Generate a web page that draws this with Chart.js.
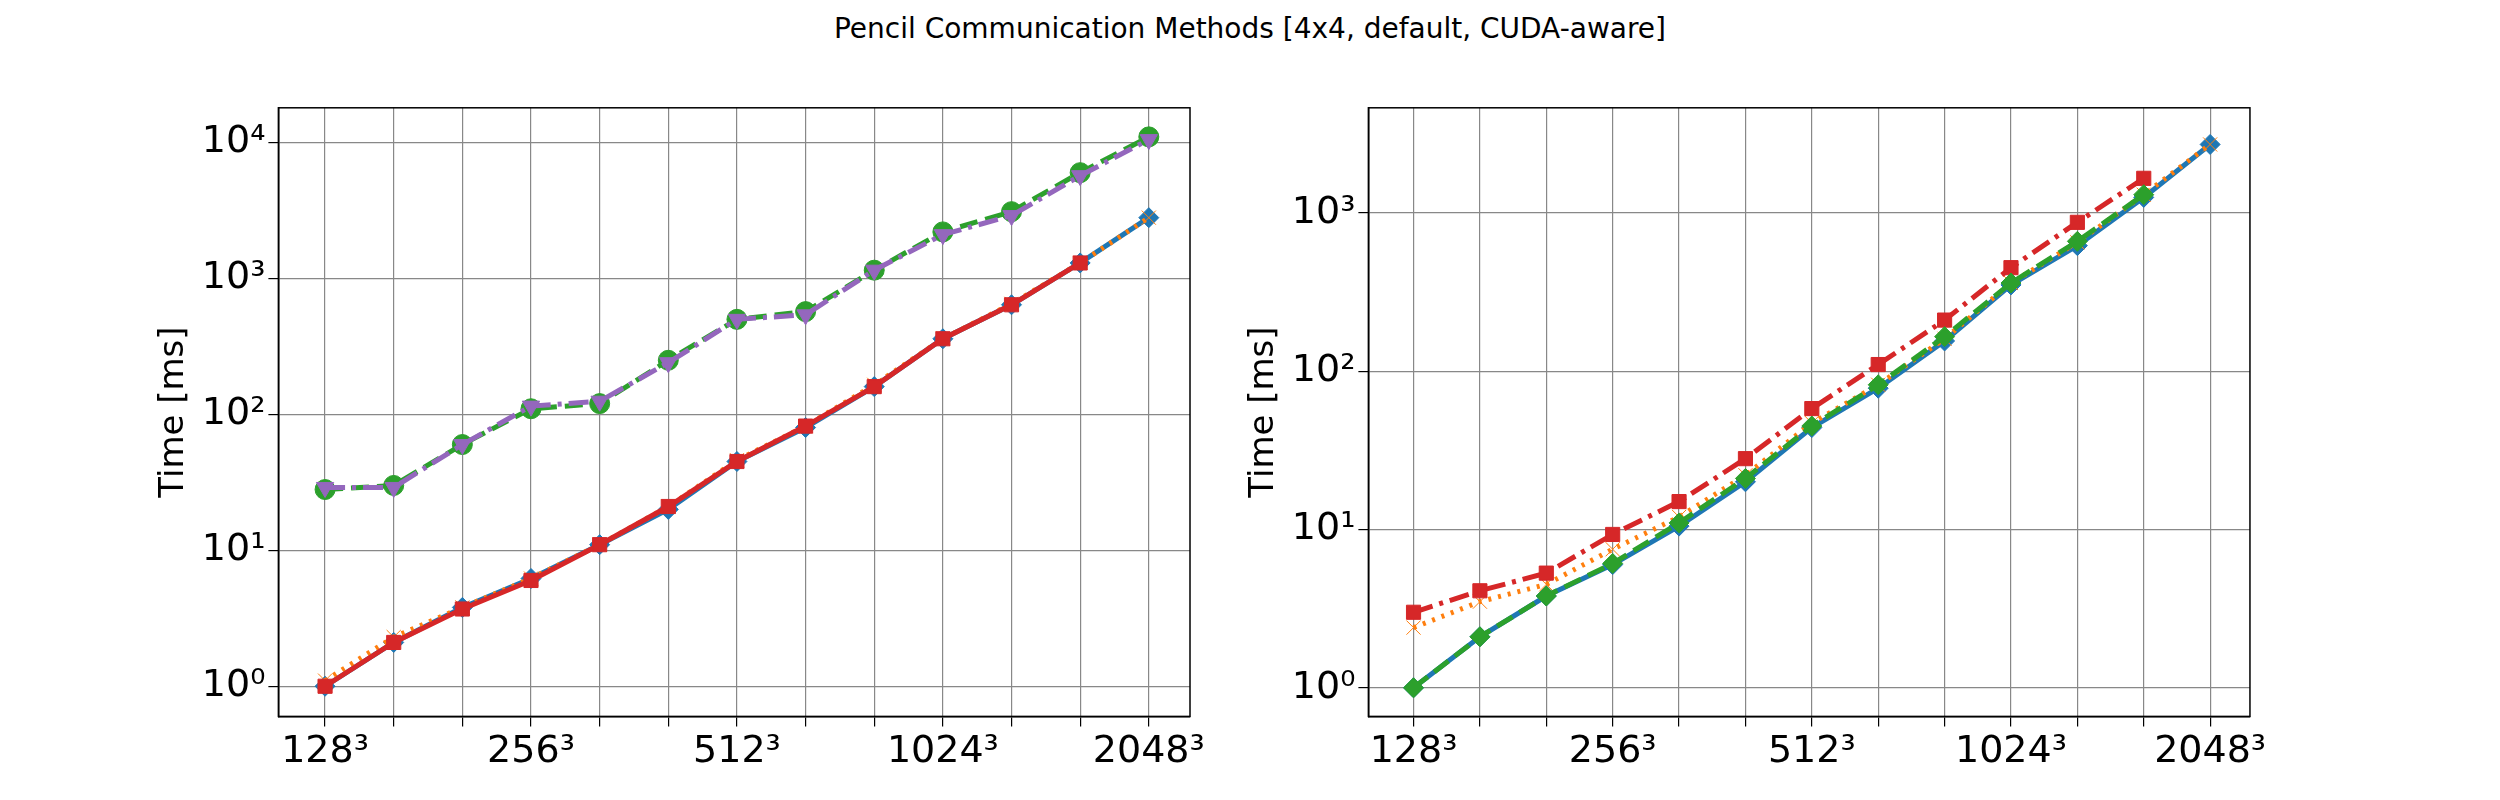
<!DOCTYPE html>
<html>
<head>
<meta charset="utf-8">
<script src="https://cdn.jsdelivr.net/npm/chart.js@4"></script>
<style>
  body { margin: 0; background: #fff; width: 2500px; height: 800px; position: relative; font-family: "DejaVu Sans"; }
  #title { position: absolute; top: 12px; width: 2500px; text-align: center; font-size: 28px; }
  .box { position: absolute; top: 82px; height: 696px; }
</style>
</head>
<body>
<div id="title">Pencil Communication Methods [4x4, default, CUDA-aware]</div>
<div class="box" style="left:150px;width:1060px"><canvas id="left"></canvas></div>
<div class="box" style="left:1240px;width:1030px"><canvas id="right"></canvas></div>
<script>
// x positions: 13 sizes, labels every third one
const tickLabels = {0: '128³', 3: '256³', 6: '512³', 9: '1024³', 12: '2048³'};

// left panel
const leftBlue   = [1.0, 2.1, 3.8, 6.2, 11, 20, 45, 80, 160, 360, 640, 1300, 2800];
const leftOrange = [1.1, 2.3, 3.8, 6.2, 11, 21, 46, 82, 165, 360, 650, 1300, 2800];
const leftGreen  = [28, 30, 60, 110, 120, 250, 500, 570, 1150, 2200, 3100, 6000, 11000];
const leftRed    = [1.0, 2.1, 3.7, 6.0, 11, 21, 45, 82, 160, 360, 640, 1300, null];
const leftPurple = [29, 29, 60, 115, 125, 240, 500, 540, 1150, 2100, 2900, 5700, 10500];

// right panel
const rightBlue   = [1.0, 2.1, 3.8, 6.0, 10.5, 20, 44, 78, 155, 350, 620, 1250, 2700];
const rightOrange = [2.4, 3.5, 4.5, 7.5, 12, 22, 47, 82, 160, 360, 650, 1300, 2700];
const rightRed    = [3.0, 4.1, 5.3, 9.3, 15, 28, 58, 110, 210, 450, 870, 1650, null];
const rightGreen  = [1.0, 2.1, 3.8, 6.1, 11, 21, 45, 82, 165, 360, 660, 1300, null];

const C = {blue: '#1f77b4', orange: '#ff7f0e', green: '#2ca02c', red: '#d62728', purple: '#9467bd'};

function pts(arr) {
  return arr.map((v, i) => ({x: i, y: v})).filter(p => p.y !== null);
}

// later series drawn on top, like matplotlib
let orderCount = 100;
function ds(arr, color, dash, shape, rot, radius) {
  return {
    data: pts(arr), borderColor: color, backgroundColor: color, borderWidth: 5,
    borderDash: dash, pointStyle: shape, pointRotation: rot || 0, pointRadius: radius || 10,
    pointBorderWidth: 1, fill: false, order: orderCount--
  };
}

// closed frame around the plot area
const frame = {
  id: 'frame',
  afterDraw(chart) {
    const {ctx, chartArea: a} = chart;
    ctx.save();
    ctx.strokeStyle = '#000';
    ctx.lineWidth = 1.5;
    ctx.strokeRect(a.left, a.top, a.right - a.left, a.bottom - a.top);
    ctx.restore();
  }
};

function makeChart(id, datasets, ymin, ymax) {
  new Chart(document.getElementById(id), {
    type: 'line',
    data: {datasets},
    plugins: [frame],
    options: {
      animation: false, responsive: true, maintainAspectRatio: false,
      plugins: {legend: {display: false}, tooltip: {enabled: false}},
      layout: {padding: {top: 0, right: 20}},
      scales: {
        x: {
          type: 'linear', min: -0.68, max: 12.6,
          border: {color: '#000', width: 1.5},
          grid: {color: '#888', lineWidth: 1.2, tickLength: 10, tickColor: '#000'},
          afterBuildTicks: s => { s.ticks = Array.from({length: 13}, (_, i) => ({value: i})); },
          ticks: {autoSkip: false, maxRotation: 0, color: '#000', font: {size: 38, family: 'DejaVu Sans'},
                  callback: v => tickLabels[v] || ''}
        },
        y: {
          type: 'logarithmic', min: ymin, max: ymax,
          border: {color: '#000', width: 1.5},
          grid: {color: '#888', lineWidth: 1.2, tickLength: 10, tickColor: '#000'},
          afterBuildTicks: s => {
            const t = [];
            for (let v = 1; v <= ymax; v *= 10) t.push({value: v});
            s.ticks = t;
          },
          title: {display: true, text: 'Time [ms]', color: '#000', font: {size: 34, family: 'DejaVu Sans'}},
          ticks: {color: '#000', font: {size: 38, family: 'DejaVu Sans'},
                  callback: v => '10' + '⁰¹²³⁴'[Math.round(Math.log10(v))]}
        }
      }
    }
  });
}

makeChart('left', [
  ds(leftBlue, C.blue, [], 'rectRot'),
  ds(leftOrange, C.orange, [3, 7], 'crossRot'),
  ds(leftGreen, C.green, [18, 8], 'circle'),
  ds(leftRed, C.red, [], 'rect'),
  ds(leftPurple, C.purple, [20, 7, 4, 7], 'triangle', 180)
], 0.6, 18000);

orderCount = 100;
makeChart('right', [
  ds(rightBlue, C.blue, [], 'rectRot'),
  ds(rightOrange, C.orange, [3, 7], 'crossRot'),
  ds(rightRed, C.red, [20, 7, 4, 7], 'rect'),
  ds(rightGreen, C.green, [18, 8], 'rectRot')
], 0.66, 4600);
</script>
</body>
</html>
